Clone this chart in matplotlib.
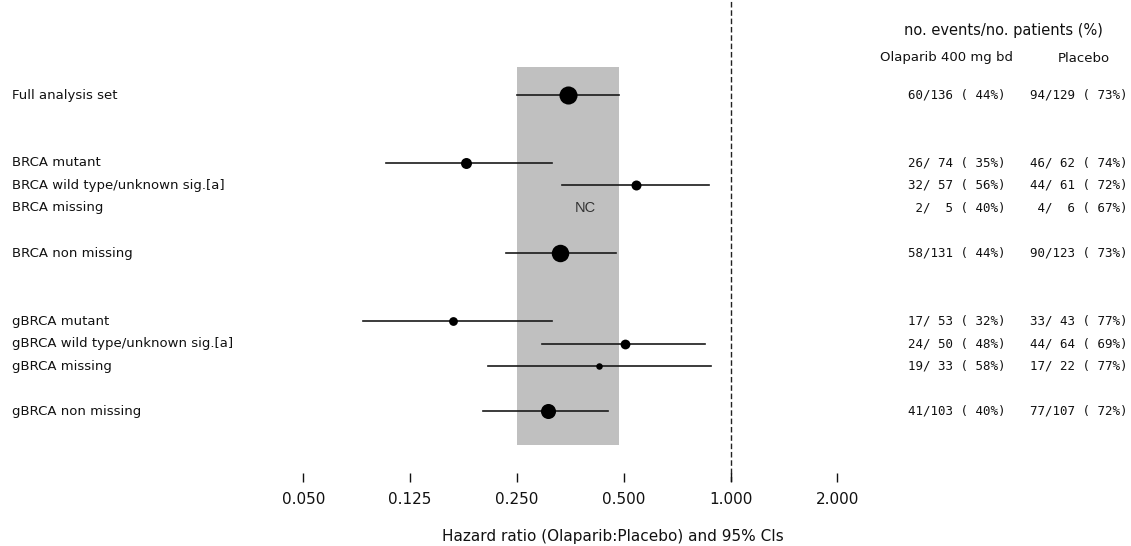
import matplotlib
matplotlib.use("Agg")
import numpy as np
from matplotlib import pyplot as plt

# subgroup rows (top to bottom), slot = row position in the list
labels = ["Full analysis set",
          "BRCA mutant", "BRCA wild type/unknown sig.[a]", "BRCA missing",
          "BRCA non missing",
          "gBRCA mutant", "gBRCA wild type/unknown sig.[a]", "gBRCA missing",
          "gBRCA non missing"]
slots = [0, 3, 4, 5, 7, 10, 11, 12, 14]

# hazard ratios and 95% CI (None = not calculable)
hr = [0.348, 0.18, 0.54, None, 0.33, 0.165, 0.505, 0.425, 0.305]
ci_lo = [0.25, 0.107, 0.336, None, 0.233, 0.092, 0.294, 0.207, 0.201]
ci_hi = [0.486, 0.314, 0.87, None, 0.475, 0.314, 0.848, 0.88, 0.452]

ola_events = [60, 26, 32, 2, 58, 17, 24, 19, 41]
ola_n = [136, 74, 57, 5, 131, 53, 50, 33, 103]
ola_pct = [44, 35, 56, 40, 44, 32, 48, 58, 40]
pla_events = [94, 46, 44, 4, 90, 33, 44, 17, 77]
pla_n = [129, 62, 61, 6, 123, 43, 64, 22, 107]
pla_pct = [73, 74, 72, 67, 73, 77, 69, 77, 72]

tick_vals = [2**-4, 2**-3, 2**-2, 2**-1, 1, 2]
tick_labels = ["0.050", "0.125", "0.250", "0.500", "1.000", "2.000"]

W, H = 1131, 546
y_first, dy = 95, 22.6
x_one, px_per_doubling = 730.5, 106.8
axis_y = 482

def row_y(s):
    return y_first + dy * s

fig = plt.figure(figsize=(W / 100, H / 100), dpi=100)

# forest axes: full width, from figure top down to the tick line
ax = fig.add_axes([0, (H - axis_y) / H, 1, axis_y / H])
ax.patch.set_visible(False)
ax.set_xscale("log", base=2)
ax.set_xlim(2 ** (-x_one / px_per_doubling), 2 ** ((W - x_one) / px_per_doubling))
ax.set_ylim(axis_y, 0)
for sp in ax.spines.values():
    sp.set_visible(False)
ax.set_yticks([])
ax.set_xticks(tick_vals)
ax.set_xticklabels(tick_labels)
ax.minorticks_off()
ax.tick_params(axis="x", direction="in", length=6.5, width=1, pad=7,
               labelsize=11, colors="#111111")

# shaded band = CI of the full analysis set
ax.fill_betweenx([row_y(-1.24), row_y(15.5)], ci_lo[0], ci_hi[0],
                 color="#c0c0c0", lw=0, zorder=0)
ax.axvline(1.0, color="#222222", lw=1, ls=(0, (4, 2)), zorder=1)

for i, s in enumerate(slots):
    if hr[i] is None:
        continue
    y = row_y(s)
    ax.plot([ci_lo[i], ci_hi[i]], [y, y], color="#1a1a1a", lw=1.2, zorder=2)
    diam_px = 3.5 + 0.055 * (ola_n[i] + pla_n[i])
    ax.plot(hr[i], y, "o", color="black", ms=diam_px * 0.72, mec="black",
            mew=0, zorder=3)

# text layer in pixel coordinates
tx = fig.add_axes([0, 0, 1, 1])
tx.patch.set_visible(False)
tx.set_xlim(0, W)
tx.set_ylim(H, 0)
tx.axis("off")

for i, s in enumerate(slots):
    y = row_y(s)
    tx.text(12, y, labels[i], fontsize=9.5, ha="left", va="center",
            color="#111111")
    c1 = f"{ola_events[i]:>2}/{ola_n[i]:>3} ({ola_pct[i]:>3}%)"
    c2 = f"{pla_events[i]:>2}/{pla_n[i]:>3} ({pla_pct[i]:>3}%)"
    tx.text(1006, y, c1, fontsize=9, family="DejaVu Sans Mono", ha="right",
            va="center", color="#111111")
    tx.text(1128, y, c2, fontsize=9, family="DejaVu Sans Mono", ha="right",
            va="center", color="#111111")

tx.text(585, row_y(5), "NC", fontsize=10.5, family="Liberation Sans",
        ha="center", va="center", color="#333333")

tx.text(1003, 30, "no. events/no. patients (%)", fontsize=10.5, ha="center",
        va="center", color="#111111")
tx.text(880, 58, "Olaparib 400 mg bd", fontsize=9.5, ha="left", va="center",
        color="#111111")
tx.text(1110, 58, "Placebo", fontsize=9.5, ha="right", va="center",
        color="#111111")

tx.text(613, 536, "Hazard ratio (Olaparib:Placebo) and 95% CIs", fontsize=11,
        ha="center", va="center", color="#111111")

fig.savefig("out.png", dpi=100)
